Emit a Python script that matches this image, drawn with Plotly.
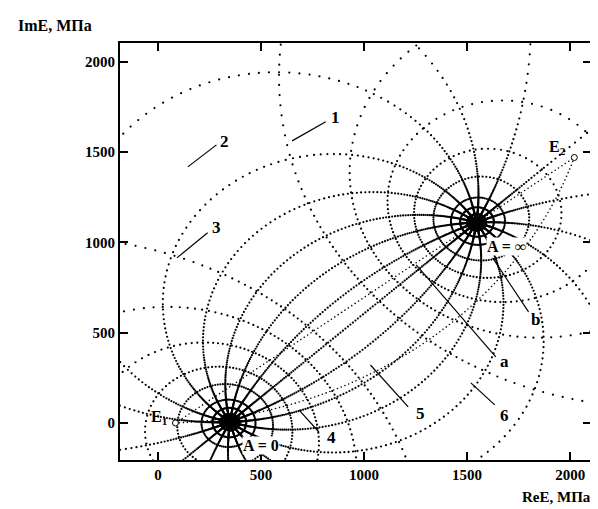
import numpy as np
import plotly.graph_objects as go

# ---- data (MPa) ----
E_zero = (350.0, 5.0)        # point A = 0
E_inf = (1545.0, 1110.0)     # point A = infinity
E1_pt = (85.0, 0.0)
E2_pt = (2020.0, 1470.0)
# middle points of the thin E1–E2 connecting curves (None -> straight)
thin_mid_x = [None, 1070.0]
thin_mid_y = [None, 294.0]

# |A| levels -> circles around the two poles (and reciprocals)
ratio_levels = [0.028, 0.05, 0.08, 0.14, 0.21, 0.31, 0.45, 0.65]
# arg A levels (deg) -> arcs joining the two poles
arc_angles = [-160, -140, -120, -100, -80, -60, -40, -20, 0, 20, 40, 60, 80, 100, 124, 140, 160, 180]

x_ticks = [0, 500, 1000, 1500, 2000]
y_ticks = [0, 500, 1000, 1500, 2000]

# curve labels
label_names = ["1", "2", "3", "4", "5", "6", "a", "b"]
label_text_x = [863, 323, 284, 843, 1272, 1682, 1682, 1831]
label_text_y = [1690, 1557, 1080, -78, 55, 44, 338, 571]
ptr_x0 = [651, 145, 92, 684, 1031, 1518, 1253, 1624]
ptr_y0 = [1562, 1418, 914, 72, 321, 222, 875, 914]
ptr_x1 = [814, 284, 241, 781, 1214, 1634, 1639, 1798]
ptr_y1 = [1668, 1540, 1053, -50, 89, 100, 366, 615]

X_RANGE = [-184, 2101]
Y_RANGE = [-205, 2104]
W, H = 590, 501
ML, MR, MT, MB = 112, 5, 35, 49
SX = (W - ML - MR) / (X_RANGE[1] - X_RANGE[0])
SY = (H - MT - MB) / (Y_RANGE[1] - Y_RANGE[0])

z0 = complex(*E_zero)
zi = complex(*E_inf)


def mob(A):
    return (z0 + zi * A) / (1 + A)


def pick_dots(z, par, dpar, cap_px):
    px = z.real * SX
    py = z.imag * SY
    seg = np.hypot(np.diff(px), np.diff(py))
    dp = np.abs(np.diff(par))
    keep = [0]
    al = 0.0
    ap = 0.0
    for i in range(len(seg)):
        al += seg[i]
        ap += dp[i]
        if al >= cap_px or ap >= dpar:
            keep.append(i + 1)
            al = 0.0
            ap = 0.0
    return z[keep]


xs, ys = [], []
s = np.linspace(-11, 11, 22001)
for th in arc_angles:
    A = np.exp(s) * np.exp(1j * np.deg2rad(th))
    z = mob(A)
    m = (z.real > X_RANGE[0] - 50) & (z.real < X_RANGE[1] + 50) & (z.imag > Y_RANGE[0] - 50) & (z.imag < Y_RANGE[1] + 50)
    z = z[m]
    sp = s[m]
    if len(z) < 2:
        continue
    d = pick_dots(z, sp, 0.04, 10.0)
    xs.extend(d.real.tolist()); ys.extend(d.imag.tolist())

t = np.linspace(-np.pi, np.pi, 7201)
for r in ratio_levels + [1 / v for v in ratio_levels]:
    A = r * np.exp(1j * t)
    z = mob(A)
    d = pick_dots(z, t, np.deg2rad(3.5), 10.0)
    xs.extend(d.real.tolist()); ys.extend(d.imag.tolist())

# thin curves joining E1 and E2
p1 = complex(*E1_pt)
p2 = complex(*E2_pt)
txs, tys = [], []
for mx, my in zip(thin_mid_x, thin_mid_y):
    u = np.linspace(0, 1, 4001)
    if mx is None:
        z = p1 + (p2 - p1) * u
    else:
        pm = complex(mx, my)
        # circle through p1, pm, p2
        ax, ay = p1.real, p1.imag
        bx, by = pm.real, pm.imag
        cx, cy = p2.real, p2.imag
        dd = 2 * (ax * (by - cy) + bx * (cy - ay) + cx * (ay - by))
        ux = ((ax**2 + ay**2) * (by - cy) + (bx**2 + by**2) * (cy - ay) + (cx**2 + cy**2) * (ay - by)) / dd
        uy = ((ax**2 + ay**2) * (cx - bx) + (bx**2 + by**2) * (ax - cx) + (cx**2 + cy**2) * (bx - ax)) / dd
        cc = complex(ux, uy)
        a1 = np.angle(p1 - cc)
        a2 = np.angle(p2 - cc)
        am = np.angle(pm - cc)
        # choose direction passing through the mid point
        def norm(a):
            return (a - a1) % (2 * np.pi)
        if norm(am) <= norm(a2):
            ang = a1 + u * norm(a2)
        else:
            ang = a1 - u * (2 * np.pi - norm(a2))
        z = cc + abs(p1 - cc) * np.exp(1j * ang)
    d = pick_dots(z, u, 1.0, 4.0)
    txs.extend(d.real.tolist()); tys.extend(d.imag.tolist())

fig = go.Figure()
fig.add_trace(go.Scatter(x=xs, y=ys, mode="markers",
                         marker=dict(size=2.2, color="black"),
                         hoverinfo="skip", showlegend=False))
fig.add_trace(go.Scatter(x=txs, y=tys, mode="markers",
                         marker=dict(size=1.6, color="black"),
                         hoverinfo="skip", showlegend=False))

for i in range(len(label_names)):
    fig.add_trace(go.Scatter(x=[ptr_x0[i], ptr_x1[i]], y=[ptr_y0[i], ptr_y1[i]],
                             mode="lines", line=dict(color="black", width=1.2),
                             hoverinfo="skip", showlegend=False))

fig.add_trace(go.Scatter(x=[E1_pt[0], E2_pt[0]], y=[E1_pt[1], E2_pt[1]], mode="markers",
                         marker=dict(symbol="circle", size=6, color="white", line=dict(width=1, color="black")),
                         hoverinfo="skip", showlegend=False))

FONT = "Liberation Serif"
ann = []
for i, nm in enumerate(label_names):
    ann.append(dict(x=label_text_x[i], y=label_text_y[i], text="<b>%s</b>" % nm, showarrow=False,
                    xanchor="center", yanchor="middle",
                    font=dict(family=FONT, size=17, color="black")))
ann.append(dict(x=501, y=-122, text="<b>A = 0</b>", showarrow=False, xanchor="center", yanchor="middle",
                bgcolor="white", borderpad=0, font=dict(family=FONT, size=16, color="black")))
ann.append(dict(x=1690, y=975, text="<b>A = ∞</b>", showarrow=False, xanchor="center", yanchor="middle",
                bgcolor="white", borderpad=0, font=dict(family=FONT, size=16, color="black")))
ann.append(dict(x=10, y=28, text="<b>E<sub>1</sub></b>", showarrow=False, xanchor="center", yanchor="middle",
                font=dict(family=FONT, size=16, color="black")))
ann.append(dict(x=1937, y=1524, text="<b>E<sub>2</sub></b>", showarrow=False, xanchor="center", yanchor="middle",
                font=dict(family=FONT, size=16, color="black")))
ann.append(dict(x=-0.137, y=1.043, xref="paper", yref="paper", text="<b>ImE, МПа</b>", showarrow=False,
                xanchor="center", yanchor="middle", font=dict(family=FONT, size=16, color="black")))
ann.append(dict(x=1.005, y=-0.089, xref="paper", yref="paper", text="<b>ReE, МПа</b>", showarrow=False,
                xanchor="right", yanchor="middle", font=dict(family=FONT, size=15, color="black")))

axis_common = dict(showgrid=False, zeroline=False, showline=True, linecolor="black", linewidth=1.8,
                   mirror="ticks", ticks="inside", ticklen=8, tickwidth=1.5, tickcolor="black",
                   tickfont=dict(family=FONT, size=15, color="black"))
fig.update_layout(
    width=W, height=H, margin=dict(l=ML, r=MR, t=MT, b=MB),
    paper_bgcolor="white", plot_bgcolor="white",
    xaxis=dict(range=X_RANGE, tickvals=x_ticks, ticktext=["<b>%d</b>" % v for v in x_ticks], **axis_common),
    yaxis=dict(range=Y_RANGE, tickvals=y_ticks, ticktext=["<b>%d</b>" % v for v in y_ticks], **axis_common),
    annotations=ann,
)
fig.write_html("out.html")
